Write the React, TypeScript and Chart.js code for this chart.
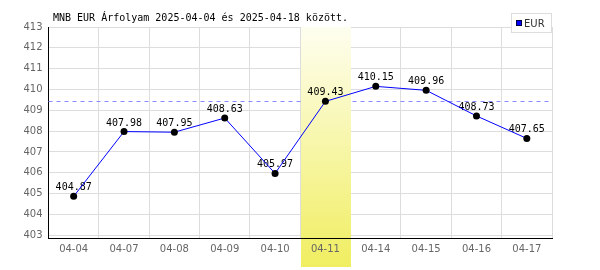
import { useEffect, useRef } from "react";
import { Chart, registerables } from "chart.js";

Chart.register(...registerables);

const categories = ["04-04", "04-07", "04-08", "04-09", "04-10", "04-11", "04-14", "04-15", "04-16", "04-17"];
const eurValues = [404.87, 407.98, 407.95, 408.63, 405.97, 409.43, 410.15, 409.96, 408.73, 407.65];
const yTickValues = [403, 404, 405, 406, 407, 408, 409, 410, 411, 412, 413];
const highlightCategory = "04-11";
const referenceValue = 409.43;
const titleText = "MNB EUR Árfolyam 2025-04-04 és 2025-04-18 között.";
const seriesName = "EUR";

const MONO = "'DejaVu Sans Mono', monospace";
const SANS = "'DejaVu Sans', sans-serif";

const overlayPlugin = {
  id: "overlay",
  beforeDatasetsDraw(chart: any) {
    const { ctx, chartArea, scales } = chart;
    const x = scales.x;
    const y = scales.y;
    // dashed reference line
    const ry = Math.round(y.getPixelForValue(referenceValue)) + 0.5;
    ctx.save();
    ctx.strokeStyle = "#8c8cff";
    ctx.lineWidth = 1;
    ctx.setLineDash([4, 4]);
    ctx.beginPath();
    ctx.moveTo(chartArea.left, ry);
    ctx.lineTo(chartArea.right, ry);
    ctx.stroke();
    ctx.restore();

    // highlight band
    const idx = categories.indexOf(highlightCategory);
    const cx = x.getPixelForValue(idx);
    const half = (x.getPixelForValue(1) - x.getPixelForValue(0)) / 2;
    const left = Math.round(cx - half) + 1;
    const right = Math.round(cx + half);
    const top = chartArea.top;
    const bottom = chart.height - 3;
    const g = ctx.createLinearGradient(0, top, 0, bottom);
    g.addColorStop(0, "rgb(254,254,240)");
    g.addColorStop(1, "rgb(240,238,96)");
    ctx.save();
    ctx.fillStyle = g;
    ctx.fillRect(left, top, right - left, bottom - top);
    ctx.restore();

    // value labels
    const meta = chart.getDatasetMeta(0);
    ctx.save();
    ctx.font = `10px ${MONO}`;
    ctx.fillStyle = "#000";
    ctx.textAlign = "center";
    ctx.textBaseline = "alphabetic";
    meta.data.forEach((pt: any, i: number) => {
      ctx.fillText(eurValues[i].toFixed(2), pt.x, pt.y - 6);
    });
    ctx.restore();
  },
  afterDraw(chart: any) {
    const { ctx, chartArea } = chart;
    ctx.save();
    // title
    ctx.font = `10px ${MONO}`;
    ctx.fillStyle = "#000";
    ctx.textAlign = "left";
    ctx.textBaseline = "alphabetic";
    ctx.fillText(titleText, 53, 21);
    // legend
    const bw = 41;
    const bh = 20;
    const bx = Math.round(chartArea.right) - bw;
    const by = 13;
    ctx.fillStyle = "#fff";
    ctx.fillRect(bx, by, bw, bh);
    ctx.strokeStyle = "#dddddd";
    ctx.lineWidth = 1;
    ctx.strokeRect(bx + 0.5, by + 0.5, bw - 1, bh - 1);
    ctx.fillStyle = "#0000ff";
    ctx.fillRect(bx + 5, by + 7, 6, 6);
    ctx.strokeStyle = "#000044";
    ctx.strokeRect(bx + 5.5, by + 7.5, 5, 5);
    ctx.font = `10px ${SANS}`;
    ctx.fillStyle = "#333";
    ctx.textBaseline = "middle";
    ctx.fillText(seriesName, bx + 13, by + 11);
    ctx.restore();
  },
};

export default function App() {
  const ref = useRef<HTMLCanvasElement | null>(null);
  useEffect(() => {
    if (!ref.current) return;
    const chart = new Chart(ref.current, {
      type: "line",
      data: {
        labels: categories,
        datasets: [
          {
            label: seriesName,
            data: eurValues,
            borderColor: "#0000ff",
            borderWidth: 1,
            pointBackgroundColor: "#000",
            pointBorderColor: "#000",
            pointRadius: 3.5,
            pointBorderWidth: 0,
            tension: 0,
            fill: false,
          },
        ],
      },
      options: {
        responsive: false,
        animation: false,
        events: [],
        layout: { padding: { top: 27, right: 48, left: 0, bottom: 0 } },
        plugins: {
          legend: { display: false },
          title: { display: false },
          tooltip: { enabled: false },
        },
        scales: {
          x: {
            type: "category",
            offset: true,
            afterFit: (s: any) => {
              s.height = 32;
            },
            grid: {
              offset: true,
              color: "#dddddd",
              lineWidth: 1,
              drawTicks: false,
            },
            border: { display: true, color: "#000", width: 1, z: 1 },
            ticks: {
              z: 1,
              color: "#666",
              font: { family: SANS, size: 10 },
              padding: 5,
              maxRotation: 0,
              autoSkip: false,
            },
          },
          y: {
            type: "linear",
            min: 402.87,
            max: 413,
            afterFit: (s: any) => {
              s.width = 48.5;
            },
            afterBuildTicks: (s: any) => {
              s.ticks = yTickValues.map((v) => ({ value: v }));
            },
            grid: { color: "#dddddd", lineWidth: 1, drawTicks: false },
            border: { display: true, color: "#000", width: 1 },
            ticks: {
              color: "#666",
              font: { family: SANS, size: 10 },
              padding: 6,
              callback: (v: any) => String(v),
            },
          },
        },
      },
      plugins: [overlayPlugin],
    });
    return () => chart.destroy();
  }, []);
  return (
    <div style={{ position: "fixed", left: 0, top: 0, width: 600, height: 270, background: "#fff" }}>
      <canvas ref={ref} width={600} height={270} style={{ display: "block" }} />
    </div>
  );
}
